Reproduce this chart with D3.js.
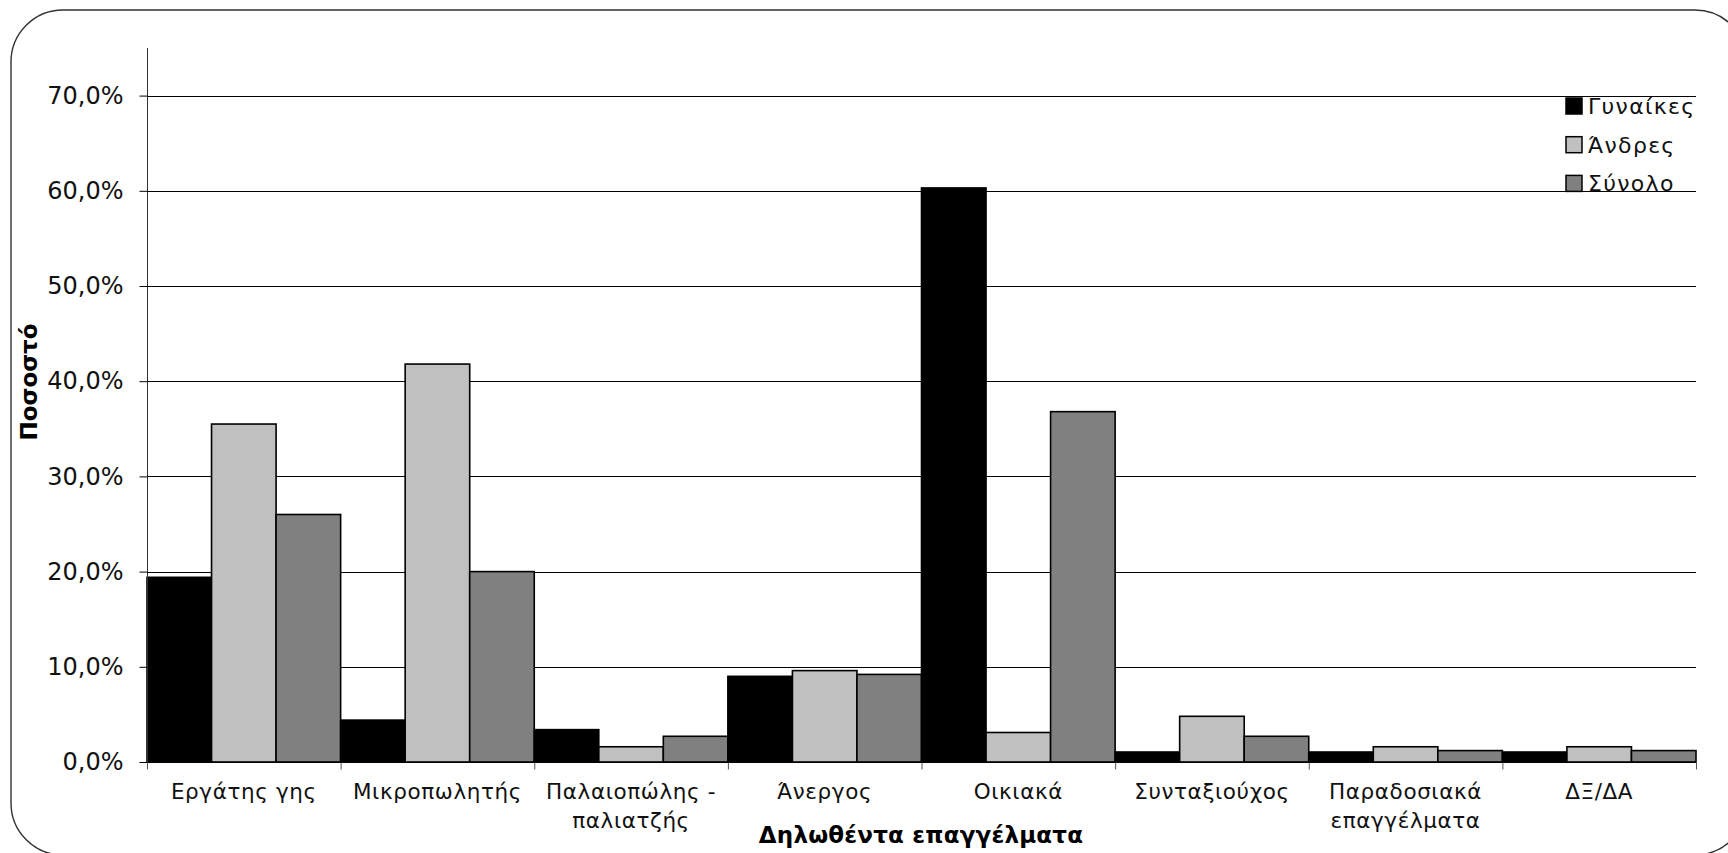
<!DOCTYPE html>
<html>
<head>
<meta charset="utf-8">
<script src="https://cdn.jsdelivr.net/npm/d3@7"></script>
<style>
  html, body { margin: 0; padding: 0; background: #fff; overflow: hidden; }
  svg { display: block; font-family: "DejaVu Sans", sans-serif; }
</style>
</head>
<body>
<svg id="chart" width="1728" height="853"></svg>
<script>
// ---- data ----
const categories = [
  ["Εργάτης γης"],
  ["Μικροπωλητής"],
  ["Παλαιοπώλης -", "παλιατζής"],
  ["Άνεργος"],
  ["Οικιακά"],
  ["Συνταξιούχος"],
  ["Παραδοσιακά", "επαγγέλματα"],
  ["ΔΞ/ΔΑ"]
];
const seriesNames = ["Γυναίκες", "Άνδρες", "Σύνολο"];
const women = [19.4, 4.4, 3.4, 9.0, 60.3, 1.05, 1.05, 1.05];
const men   = [35.5, 41.8, 1.6, 9.6, 3.1, 4.8, 1.6, 1.6];
const total = [26.0, 20.0, 2.7, 9.2, 36.8, 2.7, 1.2, 1.2];
const yTicks = [0, 10, 20, 30, 40, 50, 60, 70];
const yTitle = "Ποσοστό";
const xTitle = "Δηλωθέντα επαγγέλματα";

const seriesValues = [women, men, total];
const colors = ["#000000", "#c0c0c0", "#808080"];

// ---- layout ----
const svg = d3.select("#chart");
const plotLeft = 147, plotRight = 1696, plotTop = 48, plotBottom = 762;

// border
svg.append("rect")
  .attr("x", 11).attr("y", 10)
  .attr("width", 1736).attr("height", 845)
  .attr("rx", 52).attr("ry", 52)
  .attr("fill", "none").attr("stroke", "#333").attr("stroke-width", 1.4);

const x0 = d3.scaleBand().domain(d3.range(categories.length)).range([plotLeft, plotRight]).padding(0);
const x1 = d3.scaleBand().domain(d3.range(seriesNames.length)).range([0, x0.bandwidth()]).padding(0);
const y = d3.scaleLinear().domain([0, 75]).range([plotBottom, plotTop]);

// gridlines
svg.append("g").selectAll("line").data(yTicks.filter(d => d > 0)).join("line")
  .attr("x1", plotLeft).attr("x2", plotRight)
  .attr("y1", d => Math.round(y(d)) + 0.5).attr("y2", d => Math.round(y(d)) + 0.5)
  .attr("stroke", "#000").attr("stroke-width", 1);

// bars
const groups = svg.append("g").selectAll("g").data(categories).join("g")
  .attr("transform", (d, i) => `translate(${x0(i)},0)`);
groups.selectAll("rect")
  .data((d, i) => seriesValues.map((s, k) => ({ k, v: s[i] })))
  .join("rect")
  .attr("x", d => x1(d.k))
  .attr("width", x1.bandwidth())
  .attr("y", d => y(d.v))
  .attr("height", d => y(0) - y(d.v))
  .attr("fill", d => colors[d.k])
  .attr("stroke", "#000").attr("stroke-width", 1.6);

// y axis
const yAxis = d3.axisLeft(y).tickValues(yTicks).tickSize(8).tickPadding(16)
  .tickFormat(d => d3.format(".1f")(d).replace(".", ",") + "%");
const gy = svg.append("g").attr("transform", `translate(${plotLeft + 0.5},0)`).call(yAxis);
gy.select(".domain").attr("stroke", "#333").attr("d", `M0,${plotTop}V${plotBottom + 0.5}`);
gy.selectAll(".tick line").attr("stroke", "#000");
gy.selectAll(".tick text").attr("font-size", 24).attr("fill", "#111").attr("font-family", "DejaVu Sans");

// x axis
const xAxisScale = d3.scaleLinear().domain([0, categories.length]).range([plotLeft, plotRight]);
const gx = svg.append("g").attr("transform", `translate(0,${plotBottom + 0.5})`)
  .call(d3.axisBottom(xAxisScale).tickValues(d3.range(categories.length + 1)).tickSize(7).tickFormat(""));
gx.select(".domain").attr("stroke", "#000").attr("d", `M${plotLeft},0H${plotRight}`);
gx.selectAll(".tick line").attr("stroke", "#555");

// category labels
const labels = svg.append("g").selectAll("text").data(categories).join("text")
  .attr("x", (d, i) => x0(i) + x0.bandwidth() / 2)
  .attr("y", 799)
  .attr("text-anchor", "middle")
  .attr("font-size", 21.5)
  .attr("letter-spacing", 0.6)
  .attr("fill", "#111");
labels.selectAll("tspan").data(d => d).join("tspan")
  .attr("x", function () { return d3.select(this.parentNode).attr("x"); })
  .attr("dy", (d, i) => i === 0 ? 0 : 29)
  .text(d => d);

// axis titles
svg.append("text")
  .attr("x", 921).attr("y", 843)
  .attr("text-anchor", "middle")
  .attr("font-size", 23).attr("font-weight", "bold")
  .attr("letter-spacing", 0.2)
  .attr("fill", "#000")
  .text(xTitle);

svg.append("text")
  .attr("transform", "translate(37,382) rotate(-90)")
  .attr("text-anchor", "middle")
  .attr("font-size", 23).attr("font-weight", "bold")
  .attr("fill", "#000")
  .text(yTitle);

// legend
const legend = svg.append("g").selectAll("g").data(seriesNames).join("g")
  .attr("transform", (d, i) => `translate(1566,${98 + i * 38.7})`);
legend.append("rect")
  .attr("width", 16).attr("height", 16)
  .attr("fill", (d, i) => colors[i])
  .attr("stroke", "#000").attr("stroke-width", 1.5);
legend.append("text")
  .attr("x", 22).attr("y", 16)
  .attr("font-size", 22)
  .attr("letter-spacing", 1.3)
  .attr("fill", "#111")
  .text(d => d);
</script>
</body>
</html>
